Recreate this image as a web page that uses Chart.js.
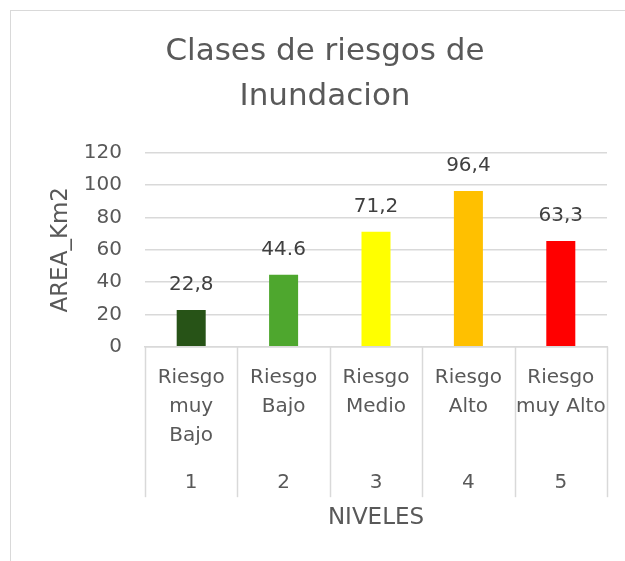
<!DOCTYPE html>
<html>
<head>
<meta charset="utf-8">
<script src="https://cdn.jsdelivr.net/npm/chart.js@4.4.1/dist/chart.umd.min.js"></script>
<style>
  html, body { margin: 0; padding: 0; background: #fff; overflow: hidden; }
  #frame { position: absolute; left: 10px; top: 10px; width: 640px; height: 580px; border: 1.5px solid #d9d9d9; }
  #wrap { position: absolute; left: 0; top: 0; width: 625px; height: 561px; }
</style>
</head>
<body>
<div id="frame"></div>
<div id="wrap"><canvas id="chart"></canvas></div>
<script>
// data
const categories = [['Riesgo', 'muy', 'Bajo'], ['Riesgo', 'Bajo'], ['Riesgo', 'Medio'], ['Riesgo', 'Alto'], ['Riesgo', 'muy Alto']];
const levels = ['1', '2', '3', '4', '5'];
const areaKm2 = [22.8, 44.6, 71.2, 96.4, 65.4];
const valueLabels = ['22,8', '44.6', '71,2', '96,4', '63,3'];
const barColors = ['#275317', '#4ea72e', '#ffff00', '#ffc000', '#ff0000'];

const FONT = "'DejaVu Sans', sans-serif";
const GREY = '#595959';
const LINE = '#d9d9d9';

// value labels above each bar
const valueLabelPlugin = {
  id: 'valueLabels',
  afterDatasetsDraw(chart) {
    const ctx = chart.ctx;
    const meta = chart.getDatasetMeta(0);
    ctx.save();
    ctx.font = '20px ' + FONT;
    ctx.fillStyle = '#404040';
    ctx.textAlign = 'center';
    ctx.textBaseline = 'middle';
    meta.data.forEach((bar, i) => {
      ctx.fillText(valueLabels[i], bar.x, bar.y - 25);
    });
    ctx.restore();
  }
};

// category separators across both label rows
const separatorPlugin = {
  id: 'separators',
  afterDraw(chart) {
    const x = chart.scales.x;
    const x2 = chart.scales.x2;
    const ctx = chart.ctx;
    const lh = Chart.helpers.toFont(x2.options.ticks.font).lineHeight;
    const end = x2.top + x2.options.ticks.padding + lh;
    const step = x.width / levels.length;
    ctx.save();
    ctx.strokeStyle = LINE;
    ctx.lineWidth = 1.5;
    for (let i = 0; i <= levels.length; i++) {
      const px = Math.round(x.left + i * step) + 0.5;
      ctx.beginPath();
      ctx.moveTo(px, x.top);
      ctx.lineTo(px, end);
      ctx.stroke();
    }
    ctx.restore();
  }
};

new Chart(document.getElementById('chart').getContext('2d'), {
  type: 'bar',
  data: {
    labels: categories,
    datasets: [{
      data: areaKm2,
      backgroundColor: barColors,
      barPercentage: 0.628,
      categoryPercentage: 0.5,
      xAxisID: 'x'
    }]
  },
  options: {
    responsive: true,
    maintainAspectRatio: false,
    animation: false,
    layout: { padding: { left: 43, right: 18, top: 0, bottom: 25 } },
    plugins: {
      legend: { display: false },
      tooltip: { enabled: false },
      title: {
        display: true,
        text: ['Clases de riesgos de', 'Inundacion'],
        color: GREY,
        font: { family: FONT, size: 31, weight: 'normal', lineHeight: 1.45 },
        padding: { top: 29.5, bottom: 33.5 }
      }
    },
    scales: {
      x: {
        type: 'category',
        position: 'bottom',
        grid: { display: false, drawTicks: false },
        border: { display: true, color: LINE, width: 1.5 },
        ticks: {
          color: GREY,
          font: { family: FONT, size: 20, lineHeight: 1.45 },
          padding: 16.5,
          maxRotation: 0,
          autoSkip: false
        }
      },
      x2: {
        type: 'category',
        position: 'bottom',
        labels: levels,
        grid: { display: false, drawTicks: false },
        border: { display: false },
        ticks: {
          color: GREY,
          font: { family: FONT, size: 20, lineHeight: 1.45 },
          padding: 1.5,
          maxRotation: 0
        },
        title: {
          display: true,
          text: 'NIVELES',
          color: GREY,
          font: { family: FONT, size: 23 },
          padding: { top: 5.7, bottom: 4 }
        }
      },
      y: {
        min: 0,
        max: 120,
        afterFit(scale) { scale.width = 102; },
        ticks: {
          stepSize: 20,
          color: GREY,
          font: { family: FONT, size: 20 },
          padding: 23
        },
        grid: { color: LINE, lineWidth: 1.5, drawTicks: false },
        border: { display: false },
        title: {
          display: true,
          text: 'AREA_Km2',
          color: GREY,
          font: { family: FONT, size: 23 },
          padding: { top: 4, bottom: 4 }
        }
      }
    }
  },
  plugins: [valueLabelPlugin, separatorPlugin]
});
</script>
</body>
</html>
